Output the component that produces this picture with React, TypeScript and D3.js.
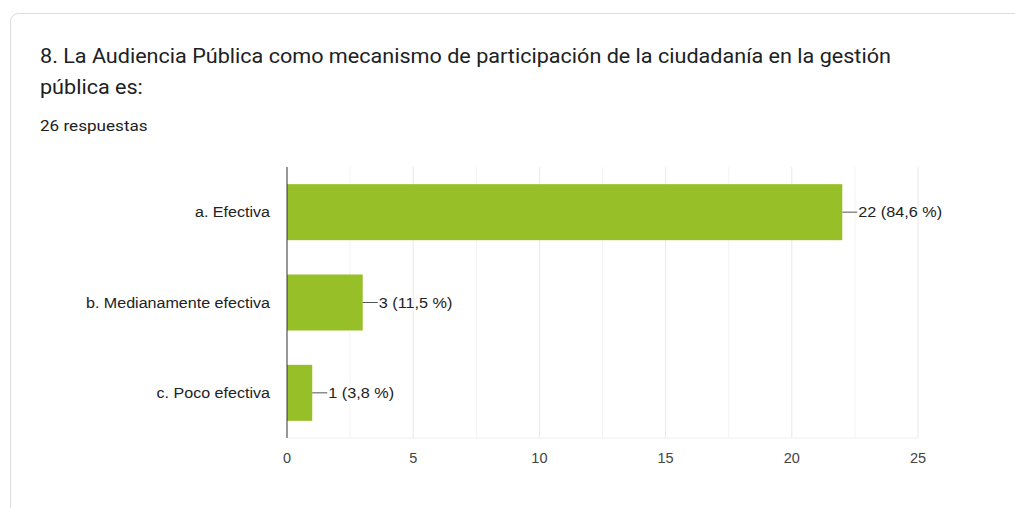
import React from "react";
import * as d3 from "d3";

const categories = ["a. Efectiva", "b. Medianamente efectiva", "c. Poco efectiva"];
const counts = [22, 3, 1];
const percentLabels = ["84,6 %", "11,5 %", "3,8 %"];
const xTicks = [0, 5, 10, 15, 20, 25];
const minorTicks = [2.5, 7.5, 12.5, 17.5, 22.5];
const titleLines = [
  "8. La Audiencia Pública como mecanismo de participación de la ciudadanía en la gestión",
  "pública es:",
];
const subtitle = "26 respuestas";

function Txt(props: any) {
  const { x, y, sx = 1, anchor = "start", children, ...rest } = props;
  return (
    <g transform={`translate(${x},${y}) scale(${sx},1)`}>
      <text x={0} y={0} textAnchor={anchor} {...rest}>{children}</text>
    </g>
  );
}

export default function App() {
  const W = 1015, H = 508;
  const left = 287, right = 918, top = 167, bottom = 438;
  const x = d3.scaleLinear().domain([0, 25]).range([left, right]);
  const y = d3.scaleBand<string>().domain(categories).range([top, bottom]).paddingInner(0.38).paddingOuter(0.19);
  const font = "Arial, 'Liberation Sans', sans-serif";
  return (
    <svg width={W} height={H} style={{ position: "absolute", left: 0, top: 0, background: "#fff" }}>
      <rect x={10.5} y={13.5} width={1020} height={520} rx={8} fill="#fff" stroke="#dadce0" />
      {titleLines.map((t, i) => (
        <Txt key={i} x={40} y={62.5 + i * 31.5} sx={1.08} fontFamily="Roboto, sans-serif" fontSize={20} fill="#202124">{t}</Txt>
      ))}
      <Txt x={40} y={131} sx={1.14} fontFamily="Roboto, sans-serif" fontSize={15} fill="#202124">{subtitle}</Txt>
      {minorTicks.map((t) => (
        <line key={"m" + t} x1={x(t)} x2={x(t)} y1={top} y2={bottom} stroke="#f3f3f3" />
      ))}
      {xTicks.filter((t) => t > 0).map((t) => (
        <line key={"g" + t} x1={x(t)} x2={x(t)} y1={top} y2={bottom} stroke="#e8e8e8" />
      ))}
      <line x1={left} x2={right} y1={bottom} y2={bottom} stroke="#f0f0f0" />
      {categories.map((c, i) => {
        const by = y(c)!;
        const bh = y.bandwidth();
        const xe = x(counts[i]);
        return (
          <g key={c}>
            <rect x={x(0)} y={by} width={xe - x(0)} height={bh} fill="#97bf27" />
            <Txt x={left - 17} y={by + bh / 2 + 5} sx={1.11} anchor="end" fontFamily={font} fontSize={14.5} fill="#222">{c}</Txt>
            <line x1={xe} x2={xe + 15} y1={by + bh / 2} y2={by + bh / 2} stroke="#555" strokeWidth={1} />
            <Txt x={xe + 16} y={by + bh / 2 + 5} sx={1.12} fontFamily={font} fontSize={14.5} fill="#222">{`${counts[i]} (${percentLabels[i]})`}</Txt>
          </g>
        );
      })}
      <line x1={left} x2={left} y1={top} y2={bottom} stroke="#333" strokeWidth={1} />
      {xTicks.map((t) => (
        <text key={"t" + t} x={x(t)} y={463} textAnchor="middle" fontFamily={font} fontSize={14.5} fill="#444">{t}</text>
      ))}
    </svg>
  );
}
